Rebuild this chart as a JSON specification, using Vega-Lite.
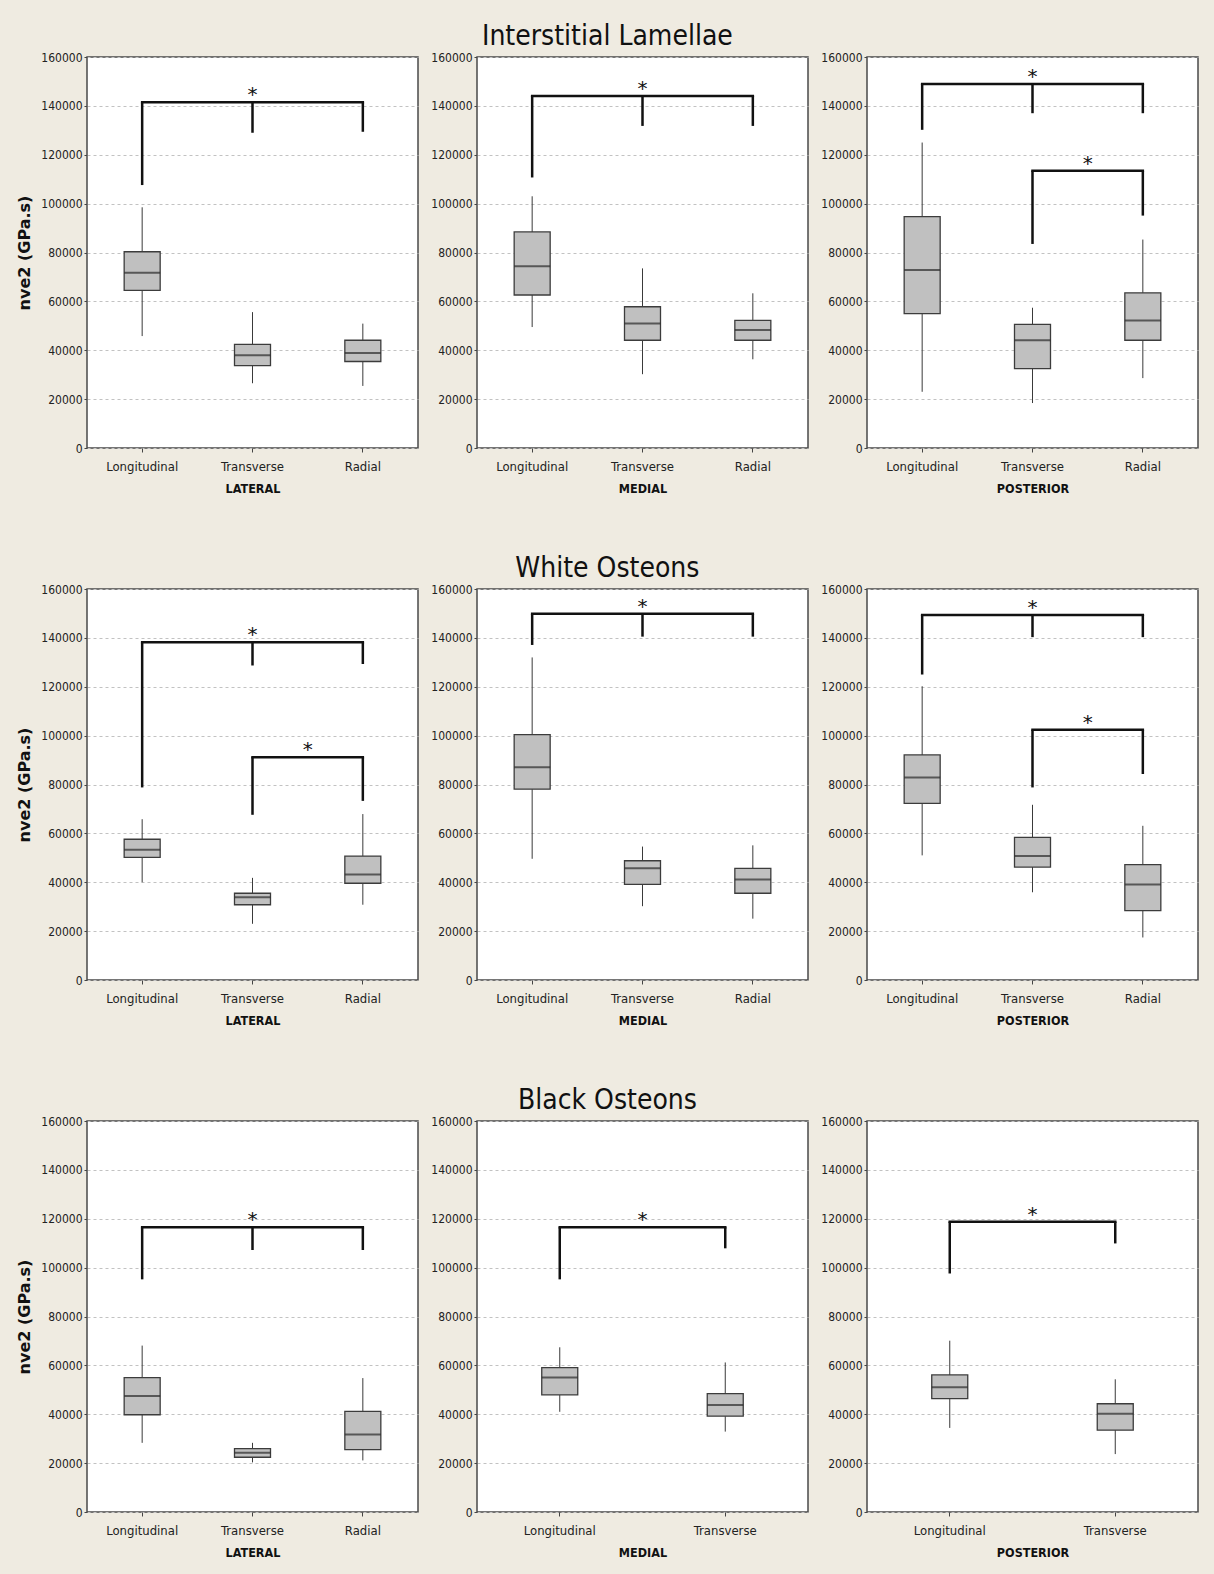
{
  "$schema": "https://vega.github.io/schema/vega-lite/v6.json",
  "background": "#efebe1",
  "padding": {"left": 16, "top": 23, "right": 16, "bottom": 22},
  "datasets": {
    "all": [
      {"region":"IL","location":"LATERAL","kind":"box","cat":"Longitudinal","low":45800,"q1":64500,"median":71700,"q3":80300,"high":98500},
      {"region":"IL","location":"LATERAL","kind":"box","cat":"Transverse","low":26500,"q1":33700,"median":38000,"q3":42400,"high":55600},
      {"region":"IL","location":"LATERAL","kind":"box","cat":"Radial","low":25400,"q1":35400,"median":38900,"q3":44100,"high":50900},
      {"region":"IL","location":"MEDIAL","kind":"box","cat":"Longitudinal","low":49500,"q1":62600,"median":74400,"q3":88400,"high":103000},
      {"region":"IL","location":"MEDIAL","kind":"box","cat":"Transverse","low":30200,"q1":44100,"median":50900,"q3":57800,"high":73500},
      {"region":"IL","location":"MEDIAL","kind":"box","cat":"Radial","low":36300,"q1":44100,"median":48300,"q3":52200,"high":63300},
      {"region":"IL","location":"POSTERIOR","kind":"box","cat":"Longitudinal","low":23000,"q1":55000,"median":72800,"q3":94700,"high":125000},
      {"region":"IL","location":"POSTERIOR","kind":"box","cat":"Transverse","low":18400,"q1":32500,"median":44100,"q3":50600,"high":57400},
      {"region":"IL","location":"POSTERIOR","kind":"box","cat":"Radial","low":28600,"q1":44100,"median":52200,"q3":63500,"high":85300},
      {"region":"WO","location":"LATERAL","kind":"box","cat":"Longitudinal","low":40000,"q1":50200,"median":53300,"q3":57600,"high":65800},
      {"region":"WO","location":"LATERAL","kind":"box","cat":"Transverse","low":23000,"q1":30800,"median":33900,"q3":35500,"high":41800},
      {"region":"WO","location":"LATERAL","kind":"box","cat":"Radial","low":30800,"q1":39600,"median":43200,"q3":50700,"high":67900},
      {"region":"WO","location":"MEDIAL","kind":"box","cat":"Longitudinal","low":49600,"q1":78100,"median":87100,"q3":100400,"high":132000},
      {"region":"WO","location":"MEDIAL","kind":"box","cat":"Transverse","low":30200,"q1":39100,"median":45700,"q3":48800,"high":54600},
      {"region":"WO","location":"MEDIAL","kind":"box","cat":"Radial","low":25100,"q1":35500,"median":41100,"q3":45700,"high":55100},
      {"region":"WO","location":"POSTERIOR","kind":"box","cat":"Longitudinal","low":51000,"q1":72300,"median":82900,"q3":92100,"high":120200},
      {"region":"WO","location":"POSTERIOR","kind":"box","cat":"Transverse","low":35900,"q1":46200,"median":50700,"q3":58400,"high":71700},
      {"region":"WO","location":"POSTERIOR","kind":"box","cat":"Radial","low":17400,"q1":28400,"median":39100,"q3":47200,"high":63100},
      {"region":"BO","location":"LATERAL","kind":"box","cat":"Longitudinal","low":28300,"q1":39800,"median":47500,"q3":55000,"high":68100},
      {"region":"BO","location":"LATERAL","kind":"box","cat":"Transverse","low":20300,"q1":22400,"median":24200,"q3":25900,"high":28300},
      {"region":"BO","location":"LATERAL","kind":"box","cat":"Radial","low":21100,"q1":25500,"median":31700,"q3":41200,"high":54800},
      {"region":"BO","location":"MEDIAL","kind":"box","cat":"Longitudinal","low":41000,"q1":47900,"median":55000,"q3":59100,"high":67400},
      {"region":"BO","location":"MEDIAL","kind":"box","cat":"Transverse","low":32900,"q1":39200,"median":43800,"q3":48400,"high":61200},
      {"region":"BO","location":"POSTERIOR","kind":"box","cat":"Longitudinal","low":34400,"q1":46400,"median":51000,"q3":56100,"high":70100},
      {"region":"BO","location":"POSTERIOR","kind":"box","cat":"Transverse","low":23700,"q1":33500,"median":40200,"q3":44300,"high":54300},

      {"region":"IL","location":"LATERAL","kind":"bracket","cat":"Longitudinal","cat2":"Radial","level":141500,"star":"Transverse","between":false},
      {"region":"IL","location":"MEDIAL","kind":"bracket","cat":"Longitudinal","cat2":"Radial","level":144000,"star":"Transverse","between":false},
      {"region":"IL","location":"POSTERIOR","kind":"bracket","cat":"Longitudinal","cat2":"Radial","level":149000,"star":"Transverse","between":false},
      {"region":"IL","location":"POSTERIOR","kind":"bracket","cat":"Transverse","cat2":"Radial","level":113500,"star":"Transverse","between":true},
      {"region":"WO","location":"LATERAL","kind":"bracket","cat":"Longitudinal","cat2":"Radial","level":138200,"star":"Transverse","between":false},
      {"region":"WO","location":"LATERAL","kind":"bracket","cat":"Transverse","cat2":"Radial","level":91200,"star":"Transverse","between":true},
      {"region":"WO","location":"MEDIAL","kind":"bracket","cat":"Longitudinal","cat2":"Radial","level":149900,"star":"Transverse","between":false},
      {"region":"WO","location":"POSTERIOR","kind":"bracket","cat":"Longitudinal","cat2":"Radial","level":149400,"star":"Transverse","between":false},
      {"region":"WO","location":"POSTERIOR","kind":"bracket","cat":"Transverse","cat2":"Radial","level":102400,"star":"Transverse","between":true},
      {"region":"BO","location":"LATERAL","kind":"bracket","cat":"Longitudinal","cat2":"Radial","level":116500,"star":"Transverse","between":false},
      {"region":"BO","location":"MEDIAL","kind":"bracket","cat":"Longitudinal","cat2":"Transverse","level":116500,"star":"Longitudinal","between":true},
      {"region":"BO","location":"POSTERIOR","kind":"bracket","cat":"Longitudinal","cat2":"Transverse","level":118800,"star":"Longitudinal","between":true},

      {"region":"IL","location":"LATERAL","kind":"leg","cat":"Longitudinal","level":141500,"bottom":107600},
      {"region":"IL","location":"LATERAL","kind":"leg","cat":"Transverse","level":141500,"bottom":129000},
      {"region":"IL","location":"LATERAL","kind":"leg","cat":"Radial","level":141500,"bottom":129400},
      {"region":"IL","location":"MEDIAL","kind":"leg","cat":"Longitudinal","level":144000,"bottom":110700},
      {"region":"IL","location":"MEDIAL","kind":"leg","cat":"Transverse","level":144000,"bottom":131800},
      {"region":"IL","location":"MEDIAL","kind":"leg","cat":"Radial","level":144000,"bottom":131800},
      {"region":"IL","location":"POSTERIOR","kind":"leg","cat":"Longitudinal","level":149000,"bottom":130200},
      {"region":"IL","location":"POSTERIOR","kind":"leg","cat":"Transverse","level":149000,"bottom":137000},
      {"region":"IL","location":"POSTERIOR","kind":"leg","cat":"Radial","level":149000,"bottom":137000},
      {"region":"IL","location":"POSTERIOR","kind":"leg","cat":"Transverse","level":113500,"bottom":83500},
      {"region":"IL","location":"POSTERIOR","kind":"leg","cat":"Radial","level":113500,"bottom":95100},
      {"region":"WO","location":"LATERAL","kind":"leg","cat":"Longitudinal","level":138200,"bottom":78800},
      {"region":"WO","location":"LATERAL","kind":"leg","cat":"Transverse","level":138200,"bottom":128700},
      {"region":"WO","location":"LATERAL","kind":"leg","cat":"Radial","level":138200,"bottom":129300},
      {"region":"WO","location":"LATERAL","kind":"leg","cat":"Transverse","level":91200,"bottom":67600},
      {"region":"WO","location":"LATERAL","kind":"leg","cat":"Radial","level":91200,"bottom":73300},
      {"region":"WO","location":"MEDIAL","kind":"leg","cat":"Longitudinal","level":149900,"bottom":137100},
      {"region":"WO","location":"MEDIAL","kind":"leg","cat":"Transverse","level":149900,"bottom":140500},
      {"region":"WO","location":"MEDIAL","kind":"leg","cat":"Radial","level":149900,"bottom":140500},
      {"region":"WO","location":"POSTERIOR","kind":"leg","cat":"Longitudinal","level":149400,"bottom":125000},
      {"region":"WO","location":"POSTERIOR","kind":"leg","cat":"Transverse","level":149400,"bottom":140300},
      {"region":"WO","location":"POSTERIOR","kind":"leg","cat":"Radial","level":149400,"bottom":140300},
      {"region":"WO","location":"POSTERIOR","kind":"leg","cat":"Transverse","level":102400,"bottom":78800},
      {"region":"WO","location":"POSTERIOR","kind":"leg","cat":"Radial","level":102400,"bottom":84300},
      {"region":"BO","location":"LATERAL","kind":"leg","cat":"Longitudinal","level":116500,"bottom":95200},
      {"region":"BO","location":"LATERAL","kind":"leg","cat":"Transverse","level":116500,"bottom":107200},
      {"region":"BO","location":"LATERAL","kind":"leg","cat":"Radial","level":116500,"bottom":107200},
      {"region":"BO","location":"MEDIAL","kind":"leg","cat":"Longitudinal","level":116500,"bottom":95200},
      {"region":"BO","location":"MEDIAL","kind":"leg","cat":"Transverse","level":116500,"bottom":107900},
      {"region":"BO","location":"POSTERIOR","kind":"leg","cat":"Longitudinal","level":118800,"bottom":97600},
      {"region":"BO","location":"POSTERIOR","kind":"leg","cat":"Transverse","level":118800,"bottom":109900}
    ]
  },
  "config": {
    "view": {"fill": "white", "stroke": "#4a4a4a", "strokeWidth": 1.5},
    "axis": {"labelOverlap": false, "domain": false, "tickColor": "#444444", "labelColor": "#222222", "titleColor": "#111111"},
    "axisY": {"grid": true, "gridColor": "#c2c2c2", "gridDash": [3, 3], "gridWidth": 1, "tickSize": 3, "labelPadding": 2, "labelFont": "Liberation Sans Narrow, DejaVu Sans Condensed, Liberation Sans, sans-serif", "labelFontSize": 12, "titleFont": "DejaVu Sans", "titleFontWeight": "bold", "titleFontSize": 16, "titlePadding": 8},
    "axisX": {"grid": false, "labelAngle": 0, "tickSize": 4, "labelPadding": 8, "labelFont": "Liberation Sans Narrow, DejaVu Sans Condensed, Liberation Sans, sans-serif", "labelFontSize": 13, "titleFont": "Liberation Sans Narrow, DejaVu Sans Condensed, Liberation Sans, sans-serif", "titleFontWeight": "bold", "titleFontSize": 12.5, "titlePadding": 9},
    "title": {"font": "Liberation Sans Narrow, DejaVu Sans Condensed, Liberation Sans, sans-serif", "fontSize": 28, "fontWeight": "normal", "color": "#111111", "anchor": "middle", "offset": -1},
    "text": {"font": "DejaVu Sans"}
  },
  "spacing": 59,
  "bounds": "full",
  "vconcat": [
    {
      "title": {"text": "Interstitial Lamellae"},
      "spacing": 59,
      "bounds": "flush",
      "hconcat": [
        {
          "width": 331, "height": 391,
          "data": {"name": "all"},
          "transform": [{"filter": "datum.region == 'IL' && datum.location == 'LATERAL'"}],
          "layer": [
            {"transform": [{"filter": "datum.kind == 'box'"}], "mark": {"type": "rule", "color": "#3a3a3a", "strokeWidth": 1},
             "encoding": {
               "x": {"field": "cat", "type": "nominal", "title": "LATERAL", "scale": {"domain": ["Longitudinal", "Transverse", "Radial"], "paddingInner": 0, "paddingOuter": 0}},
               "y": {"field": "low", "type": "quantitative", "title": "nve2 (GPa.s)", "scale": {"domain": [0, 160000], "nice": false}, "axis": {"values": [0,10000,20000,30000,40000,50000,60000,70000,80000,90000,100000,110000,120000,130000,140000,150000,160000], "labelExpr": "datum.value % 20000 == 0 ? format(datum.value, 'd') : ''", "tickOpacity": {"condition": {"test": "datum.value % 20000 != 0", "value": 0}, "value": 1}}},
               "y2": {"field": "high"}}},
            {"transform": [{"filter": "datum.kind == 'box'"}], "mark": {"type": "bar", "size": 36, "fill": "#c0c0c0", "stroke": "#3c3c3c", "strokeWidth": 1.3},
             "encoding": {"x": {"field": "cat", "type": "nominal"}, "y": {"field": "q1", "type": "quantitative"}, "y2": {"field": "q3"}}},
            {"transform": [{"filter": "datum.kind == 'box'"}], "mark": {"type": "tick", "size": 36, "thickness": 2, "color": "#2b2b2b"},
             "encoding": {"x": {"field": "cat", "type": "nominal"}, "y": {"field": "median", "type": "quantitative"}}},
            {"transform": [{"filter": "datum.kind == 'bracket'"}], "mark": {"type": "rule", "color": "#111111", "strokeWidth": 2.5, "strokeCap": "square"},
             "encoding": {"x": {"field": "cat", "type": "nominal"}, "x2": {"field": "cat2"}, "y": {"field": "level", "type": "quantitative"}}},
            {"transform": [{"filter": "datum.kind == 'leg'"}], "mark": {"type": "rule", "color": "#111111", "strokeWidth": 2.5},
             "encoding": {"x": {"field": "cat", "type": "nominal"}, "y": {"field": "bottom", "type": "quantitative"}, "y2": {"field": "level"}}},
            {"transform": [{"filter": "datum.kind == 'bracket' && !datum.between"}], "mark": {"type": "text", "text": "*", "fontSize": 20, "dy": -1, "baseline": "alphabetic", "color": "#111111"},
             "encoding": {"x": {"field": "star", "type": "nominal", "bandPosition": 0.5}, "y": {"field": "level", "type": "quantitative"}}},
            {"transform": [{"filter": "datum.kind == 'bracket' && datum.between"}], "mark": {"type": "text", "text": "*", "fontSize": 20, "dy": -1, "baseline": "alphabetic", "color": "#111111"},
             "encoding": {"x": {"field": "star", "type": "nominal", "bandPosition": 1}, "y": {"field": "level", "type": "quantitative"}}}
          ]
        },
        {
          "width": 331, "height": 391,
          "data": {"name": "all"},
          "transform": [{"filter": "datum.region == 'IL' && datum.location == 'MEDIAL'"}],
          "layer": [
            {"transform": [{"filter": "datum.kind == 'box'"}], "mark": {"type": "rule", "color": "#3a3a3a", "strokeWidth": 1},
             "encoding": {
               "x": {"field": "cat", "type": "nominal", "title": "MEDIAL", "scale": {"domain": ["Longitudinal", "Transverse", "Radial"], "paddingInner": 0, "paddingOuter": 0}},
               "y": {"field": "low", "type": "quantitative", "title": null, "scale": {"domain": [0, 160000], "nice": false}, "axis": {"values": [0,10000,20000,30000,40000,50000,60000,70000,80000,90000,100000,110000,120000,130000,140000,150000,160000], "labelExpr": "datum.value % 20000 == 0 ? format(datum.value, 'd') : ''", "tickOpacity": {"condition": {"test": "datum.value % 20000 != 0", "value": 0}, "value": 1}}},
               "y2": {"field": "high"}}},
            {"transform": [{"filter": "datum.kind == 'box'"}], "mark": {"type": "bar", "size": 36, "fill": "#c0c0c0", "stroke": "#3c3c3c", "strokeWidth": 1.3},
             "encoding": {"x": {"field": "cat", "type": "nominal"}, "y": {"field": "q1", "type": "quantitative"}, "y2": {"field": "q3"}}},
            {"transform": [{"filter": "datum.kind == 'box'"}], "mark": {"type": "tick", "size": 36, "thickness": 2, "color": "#2b2b2b"},
             "encoding": {"x": {"field": "cat", "type": "nominal"}, "y": {"field": "median", "type": "quantitative"}}},
            {"transform": [{"filter": "datum.kind == 'bracket'"}], "mark": {"type": "rule", "color": "#111111", "strokeWidth": 2.5, "strokeCap": "square"},
             "encoding": {"x": {"field": "cat", "type": "nominal"}, "x2": {"field": "cat2"}, "y": {"field": "level", "type": "quantitative"}}},
            {"transform": [{"filter": "datum.kind == 'leg'"}], "mark": {"type": "rule", "color": "#111111", "strokeWidth": 2.5},
             "encoding": {"x": {"field": "cat", "type": "nominal"}, "y": {"field": "bottom", "type": "quantitative"}, "y2": {"field": "level"}}},
            {"transform": [{"filter": "datum.kind == 'bracket' && !datum.between"}], "mark": {"type": "text", "text": "*", "fontSize": 20, "dy": -1, "baseline": "alphabetic", "color": "#111111"},
             "encoding": {"x": {"field": "star", "type": "nominal", "bandPosition": 0.5}, "y": {"field": "level", "type": "quantitative"}}},
            {"transform": [{"filter": "datum.kind == 'bracket' && datum.between"}], "mark": {"type": "text", "text": "*", "fontSize": 20, "dy": -1, "baseline": "alphabetic", "color": "#111111"},
             "encoding": {"x": {"field": "star", "type": "nominal", "bandPosition": 1}, "y": {"field": "level", "type": "quantitative"}}}
          ]
        },
        {
          "width": 331, "height": 391,
          "data": {"name": "all"},
          "transform": [{"filter": "datum.region == 'IL' && datum.location == 'POSTERIOR'"}],
          "layer": [
            {"transform": [{"filter": "datum.kind == 'box'"}], "mark": {"type": "rule", "color": "#3a3a3a", "strokeWidth": 1},
             "encoding": {
               "x": {"field": "cat", "type": "nominal", "title": "POSTERIOR", "scale": {"domain": ["Longitudinal", "Transverse", "Radial"], "paddingInner": 0, "paddingOuter": 0}},
               "y": {"field": "low", "type": "quantitative", "title": null, "scale": {"domain": [0, 160000], "nice": false}, "axis": {"values": [0,10000,20000,30000,40000,50000,60000,70000,80000,90000,100000,110000,120000,130000,140000,150000,160000], "labelExpr": "datum.value % 20000 == 0 ? format(datum.value, 'd') : ''", "tickOpacity": {"condition": {"test": "datum.value % 20000 != 0", "value": 0}, "value": 1}}},
               "y2": {"field": "high"}}},
            {"transform": [{"filter": "datum.kind == 'box'"}], "mark": {"type": "bar", "size": 36, "fill": "#c0c0c0", "stroke": "#3c3c3c", "strokeWidth": 1.3},
             "encoding": {"x": {"field": "cat", "type": "nominal"}, "y": {"field": "q1", "type": "quantitative"}, "y2": {"field": "q3"}}},
            {"transform": [{"filter": "datum.kind == 'box'"}], "mark": {"type": "tick", "size": 36, "thickness": 2, "color": "#2b2b2b"},
             "encoding": {"x": {"field": "cat", "type": "nominal"}, "y": {"field": "median", "type": "quantitative"}}},
            {"transform": [{"filter": "datum.kind == 'bracket'"}], "mark": {"type": "rule", "color": "#111111", "strokeWidth": 2.5, "strokeCap": "square"},
             "encoding": {"x": {"field": "cat", "type": "nominal"}, "x2": {"field": "cat2"}, "y": {"field": "level", "type": "quantitative"}}},
            {"transform": [{"filter": "datum.kind == 'leg'"}], "mark": {"type": "rule", "color": "#111111", "strokeWidth": 2.5},
             "encoding": {"x": {"field": "cat", "type": "nominal"}, "y": {"field": "bottom", "type": "quantitative"}, "y2": {"field": "level"}}},
            {"transform": [{"filter": "datum.kind == 'bracket' && !datum.between"}], "mark": {"type": "text", "text": "*", "fontSize": 20, "dy": -1, "baseline": "alphabetic", "color": "#111111"},
             "encoding": {"x": {"field": "star", "type": "nominal", "bandPosition": 0.5}, "y": {"field": "level", "type": "quantitative"}}},
            {"transform": [{"filter": "datum.kind == 'bracket' && datum.between"}], "mark": {"type": "text", "text": "*", "fontSize": 20, "dy": -1, "baseline": "alphabetic", "color": "#111111"},
             "encoding": {"x": {"field": "star", "type": "nominal", "bandPosition": 1}, "y": {"field": "level", "type": "quantitative"}}}
          ]
        }
      ]
    },
    {
      "title": {"text": "White Osteons"},
      "spacing": 59,
      "bounds": "flush",
      "hconcat": [
        {
          "width": 331, "height": 391,
          "data": {"name": "all"},
          "transform": [{"filter": "datum.region == 'WO' && datum.location == 'LATERAL'"}],
          "layer": [
            {"transform": [{"filter": "datum.kind == 'box'"}], "mark": {"type": "rule", "color": "#3a3a3a", "strokeWidth": 1},
             "encoding": {
               "x": {"field": "cat", "type": "nominal", "title": "LATERAL", "scale": {"domain": ["Longitudinal", "Transverse", "Radial"], "paddingInner": 0, "paddingOuter": 0}},
               "y": {"field": "low", "type": "quantitative", "title": "nve2 (GPa.s)", "scale": {"domain": [0, 160000], "nice": false}, "axis": {"values": [0,10000,20000,30000,40000,50000,60000,70000,80000,90000,100000,110000,120000,130000,140000,150000,160000], "labelExpr": "datum.value % 20000 == 0 ? format(datum.value, 'd') : ''", "tickOpacity": {"condition": {"test": "datum.value % 20000 != 0", "value": 0}, "value": 1}}},
               "y2": {"field": "high"}}},
            {"transform": [{"filter": "datum.kind == 'box'"}], "mark": {"type": "bar", "size": 36, "fill": "#c0c0c0", "stroke": "#3c3c3c", "strokeWidth": 1.3},
             "encoding": {"x": {"field": "cat", "type": "nominal"}, "y": {"field": "q1", "type": "quantitative"}, "y2": {"field": "q3"}}},
            {"transform": [{"filter": "datum.kind == 'box'"}], "mark": {"type": "tick", "size": 36, "thickness": 2, "color": "#2b2b2b"},
             "encoding": {"x": {"field": "cat", "type": "nominal"}, "y": {"field": "median", "type": "quantitative"}}},
            {"transform": [{"filter": "datum.kind == 'bracket'"}], "mark": {"type": "rule", "color": "#111111", "strokeWidth": 2.5, "strokeCap": "square"},
             "encoding": {"x": {"field": "cat", "type": "nominal"}, "x2": {"field": "cat2"}, "y": {"field": "level", "type": "quantitative"}}},
            {"transform": [{"filter": "datum.kind == 'leg'"}], "mark": {"type": "rule", "color": "#111111", "strokeWidth": 2.5},
             "encoding": {"x": {"field": "cat", "type": "nominal"}, "y": {"field": "bottom", "type": "quantitative"}, "y2": {"field": "level"}}},
            {"transform": [{"filter": "datum.kind == 'bracket' && !datum.between"}], "mark": {"type": "text", "text": "*", "fontSize": 20, "dy": -1, "baseline": "alphabetic", "color": "#111111"},
             "encoding": {"x": {"field": "star", "type": "nominal", "bandPosition": 0.5}, "y": {"field": "level", "type": "quantitative"}}},
            {"transform": [{"filter": "datum.kind == 'bracket' && datum.between"}], "mark": {"type": "text", "text": "*", "fontSize": 20, "dy": -1, "baseline": "alphabetic", "color": "#111111"},
             "encoding": {"x": {"field": "star", "type": "nominal", "bandPosition": 1}, "y": {"field": "level", "type": "quantitative"}}}
          ]
        },
        {
          "width": 331, "height": 391,
          "data": {"name": "all"},
          "transform": [{"filter": "datum.region == 'WO' && datum.location == 'MEDIAL'"}],
          "layer": [
            {"transform": [{"filter": "datum.kind == 'box'"}], "mark": {"type": "rule", "color": "#3a3a3a", "strokeWidth": 1},
             "encoding": {
               "x": {"field": "cat", "type": "nominal", "title": "MEDIAL", "scale": {"domain": ["Longitudinal", "Transverse", "Radial"], "paddingInner": 0, "paddingOuter": 0}},
               "y": {"field": "low", "type": "quantitative", "title": null, "scale": {"domain": [0, 160000], "nice": false}, "axis": {"values": [0,10000,20000,30000,40000,50000,60000,70000,80000,90000,100000,110000,120000,130000,140000,150000,160000], "labelExpr": "datum.value % 20000 == 0 ? format(datum.value, 'd') : ''", "tickOpacity": {"condition": {"test": "datum.value % 20000 != 0", "value": 0}, "value": 1}}},
               "y2": {"field": "high"}}},
            {"transform": [{"filter": "datum.kind == 'box'"}], "mark": {"type": "bar", "size": 36, "fill": "#c0c0c0", "stroke": "#3c3c3c", "strokeWidth": 1.3},
             "encoding": {"x": {"field": "cat", "type": "nominal"}, "y": {"field": "q1", "type": "quantitative"}, "y2": {"field": "q3"}}},
            {"transform": [{"filter": "datum.kind == 'box'"}], "mark": {"type": "tick", "size": 36, "thickness": 2, "color": "#2b2b2b"},
             "encoding": {"x": {"field": "cat", "type": "nominal"}, "y": {"field": "median", "type": "quantitative"}}},
            {"transform": [{"filter": "datum.kind == 'bracket'"}], "mark": {"type": "rule", "color": "#111111", "strokeWidth": 2.5, "strokeCap": "square"},
             "encoding": {"x": {"field": "cat", "type": "nominal"}, "x2": {"field": "cat2"}, "y": {"field": "level", "type": "quantitative"}}},
            {"transform": [{"filter": "datum.kind == 'leg'"}], "mark": {"type": "rule", "color": "#111111", "strokeWidth": 2.5},
             "encoding": {"x": {"field": "cat", "type": "nominal"}, "y": {"field": "bottom", "type": "quantitative"}, "y2": {"field": "level"}}},
            {"transform": [{"filter": "datum.kind == 'bracket' && !datum.between"}], "mark": {"type": "text", "text": "*", "fontSize": 20, "dy": -1, "baseline": "alphabetic", "color": "#111111"},
             "encoding": {"x": {"field": "star", "type": "nominal", "bandPosition": 0.5}, "y": {"field": "level", "type": "quantitative"}}},
            {"transform": [{"filter": "datum.kind == 'bracket' && datum.between"}], "mark": {"type": "text", "text": "*", "fontSize": 20, "dy": -1, "baseline": "alphabetic", "color": "#111111"},
             "encoding": {"x": {"field": "star", "type": "nominal", "bandPosition": 1}, "y": {"field": "level", "type": "quantitative"}}}
          ]
        },
        {
          "width": 331, "height": 391,
          "data": {"name": "all"},
          "transform": [{"filter": "datum.region == 'WO' && datum.location == 'POSTERIOR'"}],
          "layer": [
            {"transform": [{"filter": "datum.kind == 'box'"}], "mark": {"type": "rule", "color": "#3a3a3a", "strokeWidth": 1},
             "encoding": {
               "x": {"field": "cat", "type": "nominal", "title": "POSTERIOR", "scale": {"domain": ["Longitudinal", "Transverse", "Radial"], "paddingInner": 0, "paddingOuter": 0}},
               "y": {"field": "low", "type": "quantitative", "title": null, "scale": {"domain": [0, 160000], "nice": false}, "axis": {"values": [0,10000,20000,30000,40000,50000,60000,70000,80000,90000,100000,110000,120000,130000,140000,150000,160000], "labelExpr": "datum.value % 20000 == 0 ? format(datum.value, 'd') : ''", "tickOpacity": {"condition": {"test": "datum.value % 20000 != 0", "value": 0}, "value": 1}}},
               "y2": {"field": "high"}}},
            {"transform": [{"filter": "datum.kind == 'box'"}], "mark": {"type": "bar", "size": 36, "fill": "#c0c0c0", "stroke": "#3c3c3c", "strokeWidth": 1.3},
             "encoding": {"x": {"field": "cat", "type": "nominal"}, "y": {"field": "q1", "type": "quantitative"}, "y2": {"field": "q3"}}},
            {"transform": [{"filter": "datum.kind == 'box'"}], "mark": {"type": "tick", "size": 36, "thickness": 2, "color": "#2b2b2b"},
             "encoding": {"x": {"field": "cat", "type": "nominal"}, "y": {"field": "median", "type": "quantitative"}}},
            {"transform": [{"filter": "datum.kind == 'bracket'"}], "mark": {"type": "rule", "color": "#111111", "strokeWidth": 2.5, "strokeCap": "square"},
             "encoding": {"x": {"field": "cat", "type": "nominal"}, "x2": {"field": "cat2"}, "y": {"field": "level", "type": "quantitative"}}},
            {"transform": [{"filter": "datum.kind == 'leg'"}], "mark": {"type": "rule", "color": "#111111", "strokeWidth": 2.5},
             "encoding": {"x": {"field": "cat", "type": "nominal"}, "y": {"field": "bottom", "type": "quantitative"}, "y2": {"field": "level"}}},
            {"transform": [{"filter": "datum.kind == 'bracket' && !datum.between"}], "mark": {"type": "text", "text": "*", "fontSize": 20, "dy": -1, "baseline": "alphabetic", "color": "#111111"},
             "encoding": {"x": {"field": "star", "type": "nominal", "bandPosition": 0.5}, "y": {"field": "level", "type": "quantitative"}}},
            {"transform": [{"filter": "datum.kind == 'bracket' && datum.between"}], "mark": {"type": "text", "text": "*", "fontSize": 20, "dy": -1, "baseline": "alphabetic", "color": "#111111"},
             "encoding": {"x": {"field": "star", "type": "nominal", "bandPosition": 1}, "y": {"field": "level", "type": "quantitative"}}}
          ]
        }
      ]
    },
    {
      "title": {"text": "Black Osteons"},
      "spacing": 59,
      "bounds": "flush",
      "hconcat": [
        {
          "width": 331, "height": 391,
          "data": {"name": "all"},
          "transform": [{"filter": "datum.region == 'BO' && datum.location == 'LATERAL'"}],
          "layer": [
            {"transform": [{"filter": "datum.kind == 'box'"}], "mark": {"type": "rule", "color": "#3a3a3a", "strokeWidth": 1},
             "encoding": {
               "x": {"field": "cat", "type": "nominal", "title": "LATERAL", "scale": {"domain": ["Longitudinal", "Transverse", "Radial"], "paddingInner": 0, "paddingOuter": 0}},
               "y": {"field": "low", "type": "quantitative", "title": "nve2 (GPa.s)", "scale": {"domain": [0, 160000], "nice": false}, "axis": {"values": [0,10000,20000,30000,40000,50000,60000,70000,80000,90000,100000,110000,120000,130000,140000,150000,160000], "labelExpr": "datum.value % 20000 == 0 ? format(datum.value, 'd') : ''", "tickOpacity": {"condition": {"test": "datum.value % 20000 != 0", "value": 0}, "value": 1}}},
               "y2": {"field": "high"}}},
            {"transform": [{"filter": "datum.kind == 'box'"}], "mark": {"type": "bar", "size": 36, "fill": "#c0c0c0", "stroke": "#3c3c3c", "strokeWidth": 1.3},
             "encoding": {"x": {"field": "cat", "type": "nominal"}, "y": {"field": "q1", "type": "quantitative"}, "y2": {"field": "q3"}}},
            {"transform": [{"filter": "datum.kind == 'box'"}], "mark": {"type": "tick", "size": 36, "thickness": 2, "color": "#2b2b2b"},
             "encoding": {"x": {"field": "cat", "type": "nominal"}, "y": {"field": "median", "type": "quantitative"}}},
            {"transform": [{"filter": "datum.kind == 'bracket'"}], "mark": {"type": "rule", "color": "#111111", "strokeWidth": 2.5, "strokeCap": "square"},
             "encoding": {"x": {"field": "cat", "type": "nominal"}, "x2": {"field": "cat2"}, "y": {"field": "level", "type": "quantitative"}}},
            {"transform": [{"filter": "datum.kind == 'leg'"}], "mark": {"type": "rule", "color": "#111111", "strokeWidth": 2.5},
             "encoding": {"x": {"field": "cat", "type": "nominal"}, "y": {"field": "bottom", "type": "quantitative"}, "y2": {"field": "level"}}},
            {"transform": [{"filter": "datum.kind == 'bracket' && !datum.between"}], "mark": {"type": "text", "text": "*", "fontSize": 20, "dy": -1, "baseline": "alphabetic", "color": "#111111"},
             "encoding": {"x": {"field": "star", "type": "nominal", "bandPosition": 0.5}, "y": {"field": "level", "type": "quantitative"}}},
            {"transform": [{"filter": "datum.kind == 'bracket' && datum.between"}], "mark": {"type": "text", "text": "*", "fontSize": 20, "dy": -1, "baseline": "alphabetic", "color": "#111111"},
             "encoding": {"x": {"field": "star", "type": "nominal", "bandPosition": 1}, "y": {"field": "level", "type": "quantitative"}}}
          ]
        },
        {
          "width": 331, "height": 391,
          "data": {"name": "all"},
          "transform": [{"filter": "datum.region == 'BO' && datum.location == 'MEDIAL'"}],
          "layer": [
            {"transform": [{"filter": "datum.kind == 'box'"}], "mark": {"type": "rule", "color": "#3a3a3a", "strokeWidth": 1},
             "encoding": {
               "x": {"field": "cat", "type": "nominal", "title": "MEDIAL", "scale": {"domain": ["Longitudinal", "Transverse"], "paddingInner": 0, "paddingOuter": 0}},
               "y": {"field": "low", "type": "quantitative", "title": null, "scale": {"domain": [0, 160000], "nice": false}, "axis": {"values": [0,10000,20000,30000,40000,50000,60000,70000,80000,90000,100000,110000,120000,130000,140000,150000,160000], "labelExpr": "datum.value % 20000 == 0 ? format(datum.value, 'd') : ''", "tickOpacity": {"condition": {"test": "datum.value % 20000 != 0", "value": 0}, "value": 1}}},
               "y2": {"field": "high"}}},
            {"transform": [{"filter": "datum.kind == 'box'"}], "mark": {"type": "bar", "size": 36, "fill": "#c0c0c0", "stroke": "#3c3c3c", "strokeWidth": 1.3},
             "encoding": {"x": {"field": "cat", "type": "nominal"}, "y": {"field": "q1", "type": "quantitative"}, "y2": {"field": "q3"}}},
            {"transform": [{"filter": "datum.kind == 'box'"}], "mark": {"type": "tick", "size": 36, "thickness": 2, "color": "#2b2b2b"},
             "encoding": {"x": {"field": "cat", "type": "nominal"}, "y": {"field": "median", "type": "quantitative"}}},
            {"transform": [{"filter": "datum.kind == 'bracket'"}], "mark": {"type": "rule", "color": "#111111", "strokeWidth": 2.5, "strokeCap": "square"},
             "encoding": {"x": {"field": "cat", "type": "nominal"}, "x2": {"field": "cat2"}, "y": {"field": "level", "type": "quantitative"}}},
            {"transform": [{"filter": "datum.kind == 'leg'"}], "mark": {"type": "rule", "color": "#111111", "strokeWidth": 2.5},
             "encoding": {"x": {"field": "cat", "type": "nominal"}, "y": {"field": "bottom", "type": "quantitative"}, "y2": {"field": "level"}}},
            {"transform": [{"filter": "datum.kind == 'bracket' && !datum.between"}], "mark": {"type": "text", "text": "*", "fontSize": 20, "dy": -1, "baseline": "alphabetic", "color": "#111111"},
             "encoding": {"x": {"field": "star", "type": "nominal", "bandPosition": 0.5}, "y": {"field": "level", "type": "quantitative"}}},
            {"transform": [{"filter": "datum.kind == 'bracket' && datum.between"}], "mark": {"type": "text", "text": "*", "fontSize": 20, "dy": -1, "baseline": "alphabetic", "color": "#111111"},
             "encoding": {"x": {"field": "star", "type": "nominal", "bandPosition": 1}, "y": {"field": "level", "type": "quantitative"}}}
          ]
        },
        {
          "width": 331, "height": 391,
          "data": {"name": "all"},
          "transform": [{"filter": "datum.region == 'BO' && datum.location == 'POSTERIOR'"}],
          "layer": [
            {"transform": [{"filter": "datum.kind == 'box'"}], "mark": {"type": "rule", "color": "#3a3a3a", "strokeWidth": 1},
             "encoding": {
               "x": {"field": "cat", "type": "nominal", "title": "POSTERIOR", "scale": {"domain": ["Longitudinal", "Transverse"], "paddingInner": 0, "paddingOuter": 0}},
               "y": {"field": "low", "type": "quantitative", "title": null, "scale": {"domain": [0, 160000], "nice": false}, "axis": {"values": [0,10000,20000,30000,40000,50000,60000,70000,80000,90000,100000,110000,120000,130000,140000,150000,160000], "labelExpr": "datum.value % 20000 == 0 ? format(datum.value, 'd') : ''", "tickOpacity": {"condition": {"test": "datum.value % 20000 != 0", "value": 0}, "value": 1}}},
               "y2": {"field": "high"}}},
            {"transform": [{"filter": "datum.kind == 'box'"}], "mark": {"type": "bar", "size": 36, "fill": "#c0c0c0", "stroke": "#3c3c3c", "strokeWidth": 1.3},
             "encoding": {"x": {"field": "cat", "type": "nominal"}, "y": {"field": "q1", "type": "quantitative"}, "y2": {"field": "q3"}}},
            {"transform": [{"filter": "datum.kind == 'box'"}], "mark": {"type": "tick", "size": 36, "thickness": 2, "color": "#2b2b2b"},
             "encoding": {"x": {"field": "cat", "type": "nominal"}, "y": {"field": "median", "type": "quantitative"}}},
            {"transform": [{"filter": "datum.kind == 'bracket'"}], "mark": {"type": "rule", "color": "#111111", "strokeWidth": 2.5, "strokeCap": "square"},
             "encoding": {"x": {"field": "cat", "type": "nominal"}, "x2": {"field": "cat2"}, "y": {"field": "level", "type": "quantitative"}}},
            {"transform": [{"filter": "datum.kind == 'leg'"}], "mark": {"type": "rule", "color": "#111111", "strokeWidth": 2.5},
             "encoding": {"x": {"field": "cat", "type": "nominal"}, "y": {"field": "bottom", "type": "quantitative"}, "y2": {"field": "level"}}},
            {"transform": [{"filter": "datum.kind == 'bracket' && !datum.between"}], "mark": {"type": "text", "text": "*", "fontSize": 20, "dy": -1, "baseline": "alphabetic", "color": "#111111"},
             "encoding": {"x": {"field": "star", "type": "nominal", "bandPosition": 0.5}, "y": {"field": "level", "type": "quantitative"}}},
            {"transform": [{"filter": "datum.kind == 'bracket' && datum.between"}], "mark": {"type": "text", "text": "*", "fontSize": 20, "dy": -1, "baseline": "alphabetic", "color": "#111111"},
             "encoding": {"x": {"field": "star", "type": "nominal", "bandPosition": 1}, "y": {"field": "level", "type": "quantitative"}}}
          ]
        }
      ]
    }
  ]
}
